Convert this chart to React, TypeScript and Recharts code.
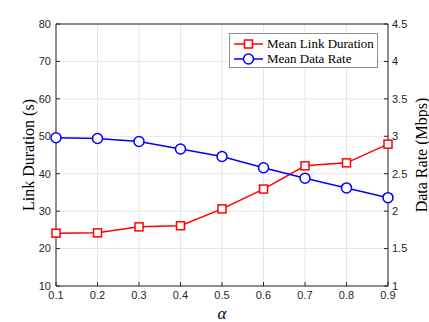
import React from "react";
import {
  LineChart,
  Line,
  XAxis,
  YAxis,
  CartesianGrid,
  ReferenceLine,
} from "recharts";

const alphas = [0.1, 0.2, 0.3, 0.4, 0.5, 0.6, 0.7, 0.8, 0.9];
const linkDuration = [24.1, 24.2, 25.8, 26.1, 30.6, 35.9, 42.1, 42.9, 47.9];
const dataRate = [2.98, 2.97, 2.93, 2.83, 2.73, 2.58, 2.44, 2.31, 2.18];

const leftTicks = [10, 20, 30, 40, 50, 60, 70, 80];
const rightTicks = [1, 1.5, 2, 2.5, 3, 3.5, 4, 4.5];

const rows = alphas.map((a, i) => ({
  alpha: a,
  duration: linkDuration[i],
  rate: dataRate[i],
}));

const serif = "'Liberation Serif', 'Times New Roman', serif";

const tickFont = {
  fontFamily: "'Liberation Sans', Arial, sans-serif",
  fontSize: 11,
  fill: "#262626",
};

const SquareDot = (props: any) => {
  const { cx, cy } = props;
  if (cx == null || cy == null) return null;
  return (
    <rect
      x={cx - 4}
      y={cy - 4}
      width={8}
      height={8}
      fill="#fff"
      stroke="#ff0000"
      strokeWidth={1.5}
    />
  );
};

const CircleDot = (props: any) => {
  const { cx, cy } = props;
  if (cx == null || cy == null) return null;
  return (
    <circle cx={cx} cy={cy} r={5} fill="#fff" stroke="#0000ff" strokeWidth={1.5} />
  );
};

const legendItems = [
  { name: "Mean Link Duration", color: "#ff0000", shape: "square" },
  { name: "Mean Data Rate", color: "#0000ff", shape: "circle" },
];

// legend is drawn as an overlay so it does not push the plot down
const LegendBox = () => (
  <div
    style={{
      position: "absolute",
      left: 229,
      top: 33,
      border: "1px solid #8c8c8c",
      background: "#fff",
      width: 149,
      height: 35,
      boxSizing: "border-box",
      padding: "2px 0 0 3px",
      fontFamily: serif,
      fontSize: 13,
      color: "#000",
      lineHeight: "15px",
    }}
  >
    {legendItems.map((item) => (
      <div key={item.name} style={{ display: "flex", alignItems: "center", height: 15 }}>
        <svg width={31} height={14} style={{ marginRight: 3 }}>
          <line x1={1} y1={7} x2={30} y2={7} stroke={item.color} strokeWidth={1.5} />
          {item.shape === "square" ? (
            <rect x={11.5} y={3} width={8} height={8} fill="#fff" stroke={item.color} strokeWidth={1.5} />
          ) : (
            <circle cx={15.5} cy={7} r={5} fill="#fff" stroke={item.color} strokeWidth={1.5} />
          )}
        </svg>
        <span>{item.name}</span>
      </div>
    ))}
  </div>
);

export default function App() {
  return (
    <div style={{ position: "absolute", left: 0, top: 0, background: "#fff" }}>
      <LineChart
        width={429}
        height={322}
        data={rows}
        margin={{ top: 24, right: 0, bottom: 0, left: 0 }}
      >
        <CartesianGrid yAxisId="left" stroke="#e6e6e6" strokeWidth={1} />
        <XAxis
          dataKey="alpha"
          type="number"
          domain={[0.1, 0.9]}
          ticks={alphas}
          height={36}
          stroke="#262626"
          tick={tickFont}
          tickSize={-4}
          tickMargin={9}
          tickFormatter={(v) => String(v)}
          label={{
            value: "α",
            position: "insideBottom",
            offset: 3,
            style: { fontFamily: serif, fontStyle: "italic", fontSize: 17, fill: "#000" },
          }}
        />
        <YAxis
          yAxisId="left"
          domain={[10, 80]}
          ticks={leftTicks}
          width={56}
          stroke="#262626"
          tick={tickFont}
          tickSize={-4}
          tickMargin={9}
          label={{
            value: "Link Duration (s)",
            angle: -90,
            position: "center",
            dx: 0,
            style: { fontFamily: serif, fontSize: 16, fill: "#000" },
          }}
        />
        <YAxis
          yAxisId="right"
          orientation="right"
          domain={[1, 4.5]}
          ticks={rightTicks}
          width={41}
          stroke="#262626"
          tick={tickFont}
          tickSize={-4}
          tickMargin={8}
          label={{
            value: "Data Rate (Mbps)",
            angle: -90,
            position: "center",
            dx: 13,
            style: { fontFamily: serif, fontSize: 16, fill: "#000" },
          }}
        />
        <ReferenceLine yAxisId="left" y={80} stroke="#262626" />
        <Line
          yAxisId="left"
          dataKey="duration"
          stroke="#ff0000"
          strokeWidth={1.5}
          dot={<SquareDot />}
          isAnimationActive={false}
        />
        <Line
          yAxisId="right"
          dataKey="rate"
          stroke="#0000ff"
          strokeWidth={1.5}
          dot={<CircleDot />}
          isAnimationActive={false}
        />
      </LineChart>
      <LegendBox />
    </div>
  );
}
